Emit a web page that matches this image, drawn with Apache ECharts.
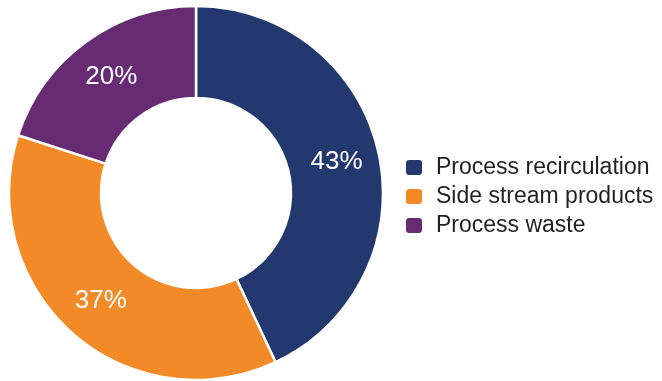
<!DOCTYPE html>
<html>
<head>
<meta charset="utf-8">
<script src="https://cdn.jsdelivr.net/npm/echarts@6/dist/echarts.min.js"></script>
<style>
  html, body { margin: 0; padding: 0; background: #fff; }
  #chart { width: 662px; height: 381px; }
</style>
</head>
<body>
<div id="chart"></div>
<script>
// Share of process output by destination (%)
const categories = ['Process recirculation', 'Side stream products', 'Process waste'];
const shares = [43, 37, 20];
const colors = ['#22386f', '#f18a27', '#672b73'];

const chart = echarts.init(document.getElementById('chart'));
chart.setOption({
  animation: false,
  color: colors,
  legend: {
    orient: 'vertical',
    left: 404,
    top: 156,
    padding: 0,
    icon: 'roundRect',
    itemWidth: 18,
    itemHeight: 17,
    itemGap: 6,
    textStyle: {
      fontFamily: 'Liberation Sans, Arial, sans-serif',
      fontSize: 23,
      color: '#231f20',
      padding: [0, 0, 0, 8]
    },
    data: categories
  },
  series: [{
    type: 'pie',
    center: [196, 193],
    radius: [95, 187],
    startAngle: 90,
    clockwise: true,
    avoidLabelOverlap: false,
    itemStyle: { borderColor: '#fff', borderWidth: 2.5 },
    label: {
      position: 'inside',
      formatter: '{c}%',
      color: '#fff',
      fontFamily: 'Liberation Sans, Arial, sans-serif',
      fontSize: 26
    },
    labelLine: { show: false },
    data: categories.map((name, i) => ({ name, value: shares[i] }))
  }]
});
</script>
</body>
</html>
